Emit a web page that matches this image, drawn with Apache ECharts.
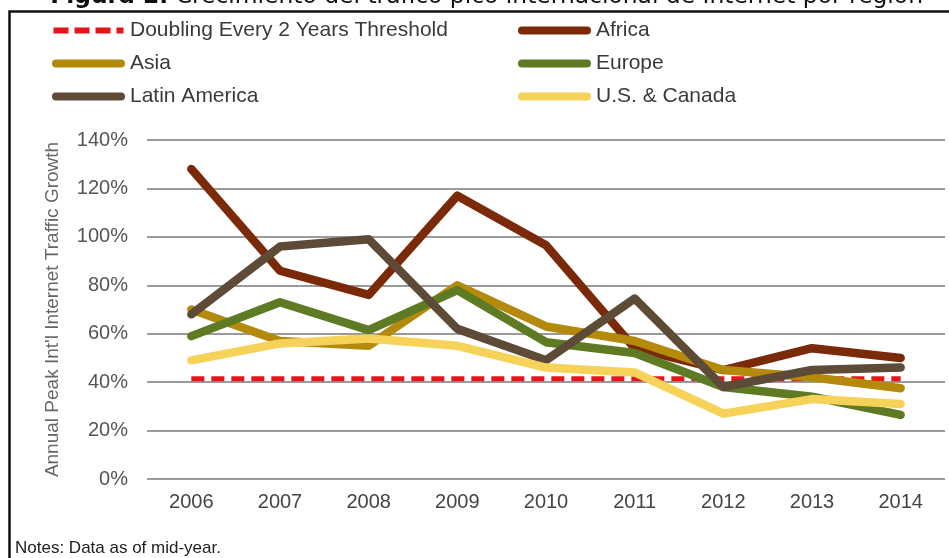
<!DOCTYPE html>
<html>
<head>
<meta charset="utf-8">
<script src="https://cdn.jsdelivr.net/npm/echarts@6/dist/echarts.min.js"></script>
<style>
html,body{margin:0;padding:0;background:#fff;}
#chart{width:949px;height:558px;}
</style>
</head>
<body>
<div id="chart"></div>
<script>
var years = ['2006','2007','2008','2009','2010','2011','2012','2013','2014'];
var threshold = [41.4, 41.4, 41.4, 41.4, 41.4, 41.4, 41.4, 41.4, 41.4];
var africa = [128, 86, 76, 117, 96.5, 54, 45, 54, 50];
var asia = [70, 57, 55, 80, 63, 57, 45, 42, 37.5];
var europe = [59, 73, 61.5, 78, 56.5, 52, 38, 34, 26.5];
var latinAmerica = [68, 96, 99, 62, 49, 74.5, 38, 45, 46];
var usCanada = [49, 56, 58, 55, 46, 44, 27, 33, 31];
var yTicks = {min: 0, max: 140, interval: 20};

var names = ['Doubling Every 2 Years Threshold','Africa','Asia','Europe','Latin America','U.S. & Canada'];
var colors = ['#e8141b','#7a2a08','#b48a0c','#5e7a22','#5d4a37','#f6d258'];

var pillIcon = 'path://M4,0 H69 A4,4 0 0 1 69,8 H4 A4,4 0 0 1 4,0 Z';
var dashIcon = 'path://M0,1 H15 V7 H0 Z M21,1 H36 V7 H21 Z M42,1 H57 V7 H42 Z M63,1 H70 V7 H63 Z M0,0 H0.01 V0.01 H0 Z M0,8 H0.01 V7.99 H0 Z';

var chart = echarts.init(document.getElementById('chart'));
function lineSeries(name, data, color, extra) {
  var s = {
    name: name, type: 'line', data: data, symbol: 'none', smooth: false,
    itemStyle: {color: color},
    lineStyle: {color: color, width: 8.5, cap: 'round', join: 'round'},
    emphasis: {disabled: true}, animation: false
  };
  if (extra) { for (var k in extra) s.lineStyle[k] = extra[k]; }
  return s;
}
function legendItem(i) {
  return {name: names[i], icon: i === 0 ? dashIcon : pillIcon, itemStyle: {color: colors[i], borderWidth: 0}};
}
var legendText = {fontFamily: 'Liberation Sans, Arial, sans-serif', fontSize: 21, color: '#3a3a3a', lineHeight: 20};
chart.setOption({
  animation: false,
  backgroundColor: '#fff',
  title: {
    text: '{b|Figura 2.} Crecimiento del tráfico pico internacional de Internet por región',
    right: 26, top: -15, padding: 0,
    textStyle: {
      fontFamily: 'DejaVu Sans', fontSize: 23.4, fontWeight: 'normal', color: '#111', lineHeight: 23,
      rich: {b: {fontFamily: 'DejaVu Sans', fontSize: 23.4, fontWeight: 'bold', color: '#111', lineHeight: 23}}
    }
  },
  legend: [
    {data: [legendItem(0), legendItem(2), legendItem(4)], orient: 'vertical', left: 52, top: 20, padding: 0,
     itemWidth: 73, itemHeight: 8, itemGap: 12, textStyle: legendText, selectedMode: false},
    {data: [legendItem(1), legendItem(3), legendItem(5)], orient: 'vertical', left: 518, top: 20, padding: 0,
     itemWidth: 73, itemHeight: 8, itemGap: 12, textStyle: legendText, selectedMode: false}
  ],
  grid: {left: 147, right: 4, top: 140, bottom: 79, containLabel: false},
  xAxis: {
    type: 'category', data: years, boundaryGap: true,
    axisLine: {show: false}, axisTick: {show: false},
    axisLabel: {margin: 13, fontFamily: 'Liberation Sans, Arial, sans-serif', fontSize: 20, color: '#444'}
  },
  yAxis: {
    type: 'value', min: yTicks.min, max: yTicks.max, interval: yTicks.interval,
    name: "Annual Peak Int'l Internet Traffic Growth", nameLocation: 'middle', nameGap: 85,
    nameTextStyle: {fontFamily: 'Liberation Sans, Arial, sans-serif', fontSize: 19, color: '#666'},
    axisLine: {show: false}, axisTick: {show: false},
    splitLine: {lineStyle: {color: '#9a9a9a', width: 2}},
    axisLabel: {margin: 19, formatter: '{value}%', fontFamily: 'Liberation Sans, Arial, sans-serif', fontSize: 20, color: '#555'}
  },
  graphic: [
    {type: 'rect', shape: {x: 9.5, y: 11.5, width: 1000, height: 600}, style: {fill: 'none', stroke: '#111', lineWidth: 2.5}, silent: true},
    {type: 'text', left: 15, top: 540, style: {text: 'Notes: Data as of mid-year.', fontFamily: 'Liberation Sans, Arial, sans-serif', fontSize: 17, fill: '#222'}, silent: true}
  ],
  series: [
    lineSeries(names[0], threshold, colors[0], {width: 5, type: [13, 7], cap: 'butt'}),
    lineSeries(names[1], africa, colors[1]),
    lineSeries(names[2], asia, colors[2]),
    lineSeries(names[3], europe, colors[3]),
    lineSeries(names[4], latinAmerica, colors[4]),
    lineSeries(names[5], usCanada, colors[5])
  ]
});
</script>
</body>
</html>
